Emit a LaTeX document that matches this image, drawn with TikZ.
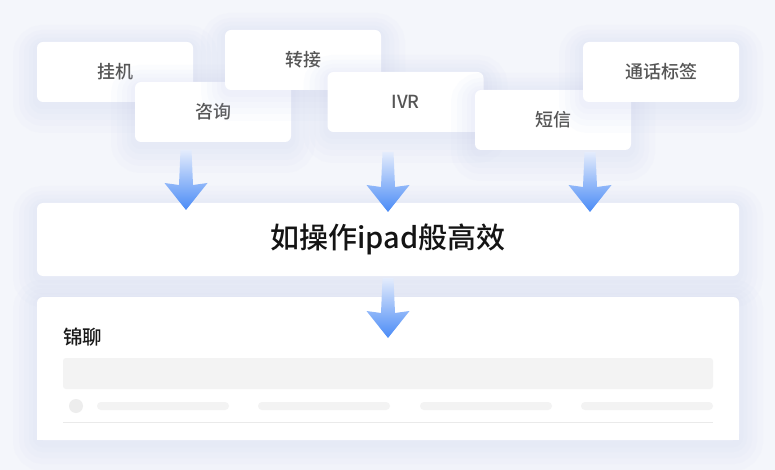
\documentclass[tikz,border=0pt]{standalone}
\usepackage{fontspec}
\newfontfamily\cjk{Noto Sans CJK SC}
\newfontfamily\cjkmed{Noto Sans CJK SC Medium}
\definecolor{bgc}{HTML}{F4F6FB}
\definecolor{shadowc}{HTML}{C6CFEE}
\definecolor{cardtext}{HTML}{555555}
\definecolor{arrowtop}{HTML}{E4ECFC}
\definecolor{arrowblue}{HTML}{4A8BF6}
\definecolor{skel}{HTML}{F3F3F3}
\definecolor{skeldot}{HTML}{EDEDED}
\definecolor{rulec}{HTML}{EAEAEA}
\tikzset{
softshadow/.style={
    preaction={draw=shadowc, draw opacity=0.06, line width=48pt, transform canvas={yshift=-7pt}},
    preaction={draw=shadowc, draw opacity=0.06, line width=36pt, transform canvas={yshift=-6pt}},
    preaction={draw=shadowc, draw opacity=0.06, line width=26pt, transform canvas={yshift=-5pt}},
    preaction={draw=shadowc, draw opacity=0.06, line width=16pt, transform canvas={yshift=-4pt}},
    preaction={draw=shadowc, draw opacity=0.06, line width=8pt, transform canvas={yshift=-3pt}}
},
card/.style={
    softshadow,
    rectangle,
    rounded corners=6pt,
    fill=white,
    minimum width=156pt,
    minimum height=60pt,
    text=cardtext,
    font=\cjkmed\fontsize{18pt}{20pt}\selectfont
},
bar/.style={
    softshadow,
    rectangle,
    rounded corners=6pt,
    fill=white,
    minimum width=702pt
},
title/.style={
    anchor=west,
    inner sep=0pt,
    text=black!90,
    font=\cjkmed\fontsize{19.5pt}{22pt}\selectfont
},
skeleton/.style={
    fill=skel,
    rounded corners=4pt
},
fatarrow/.pic={
    \shade[top color=arrowtop, bottom color=arrowblue]
        (-5.5,0) -- (-7,35) -- (-21.5,33) -- (0,60) -- (21.5,33) -- (7,35) -- (5.5,0) -- cycle;
}}

\begin{document}
\begin{tikzpicture}[x=1pt, y=-1pt]
\useasboundingbox (0,0) rectangle (775,470);
\fill[bgc] (0,0) rectangle (775,470);

\node[card]    (hangup)      at (115,72)     {挂机};
\node[card]    (consult)     at (213,112)    {咨询};
\node[card]    (transfer)    at (303,60)     {转接};
\node[card]    (ivr)         at (405.5,102)  {IVR};
\node[card]    (sms)         at (553,120)    {短信};
\node[card]    (tag)         at (661,72)     {通话标签};

\node[bar, minimum height=73pt, text=black!92, font=\cjkmed\fontsize{29pt}{31pt}\selectfont]    (main)    at (388,239.5)    {如操作ipad般高效};
\node[bar, minimum height=143pt]    (panel)    at (388,368.5)    {};
\fill[white] ([yshift=8pt]panel.south west) rectangle (panel.south east);

\node[title]    (jinliao)    at (63,337)    {锦聊};
\fill[skel, rounded corners=3pt] (63,358) rectangle (713,389);
\fill[skeldot] (76,406) circle (7);
\foreach \x in {97,258,420,581}
    \fill[skeleton] (\x,402) rectangle ++(132,8);
\draw[rulec, line width=0.8pt] (63,422) -- (713,422);

\pic at (186,150) {fatarrow};
\pic at (388,152) {fatarrow};
\pic at (590,152) {fatarrow};
\pic at (388,278) {fatarrow};
\end{tikzpicture}
\end{document}
